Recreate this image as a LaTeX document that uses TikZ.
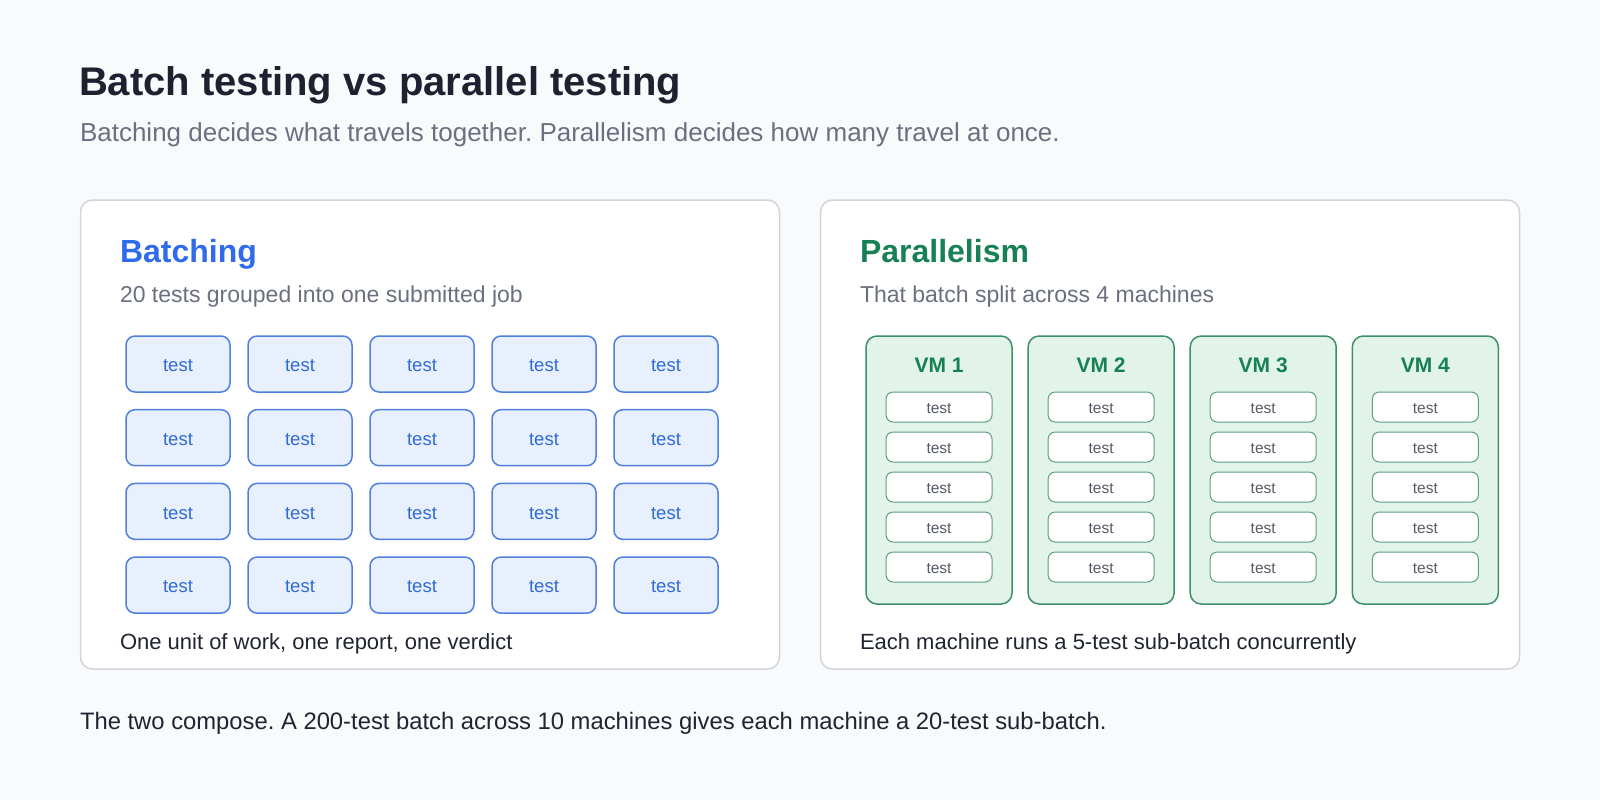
\documentclass[tikz,border=0pt]{standalone}
\usepackage{fontspec}
\setmainfont{Liberation Sans}
\frenchspacing
\definecolor{bg}{HTML}{F8FAFC}
\definecolor{panelborder}{HTML}{D1D5DB}
\definecolor{titlecol}{HTML}{1D2130}
\definecolor{subcol}{HTML}{6B7080}
\definecolor{capcol}{HTML}{1F2430}
\definecolor{blueT}{HTML}{2F6BEA}
\definecolor{blueFill}{HTML}{E8EFFD}
\definecolor{blueLine}{HTML}{4F80E0}
\definecolor{blueText}{HTML}{2F6BD6}
\definecolor{greenT}{HTML}{178055}
\definecolor{vmFill}{HTML}{E2F4EA}
\definecolor{vmLine}{HTML}{3D8F69}
\definecolor{innerLine}{HTML}{5C9E80}
\definecolor{innerText}{HTML}{555B66}
\tikzset{
  txt/.style={anchor=base west, inner sep=0pt, outer sep=0pt},
  panel/.style={draw=panelborder, line width=1.5pt, fill=white, rounded corners=12pt},
  bbox/.style={draw=blueLine, line width=1.5pt, fill=blueFill, rounded corners=9pt,
    minimum width=104pt, minimum height=56pt, inner sep=0pt, text=blueText,
    font=\fontsize{18.5}{22}\selectfont},
  vmbox/.style={draw=vmLine, line width=1.5pt, fill=vmFill, rounded corners=11pt,
    minimum width=146pt, minimum height=268pt, inner sep=0pt},
  ibox/.style={draw=innerLine, line width=1pt, fill=white, rounded corners=7pt,
    minimum width=106pt, minimum height=30pt, inner sep=0pt, text=innerText,
    font=\fontsize{15.5}{18}\selectfont},
  lbl/.style={inner sep=0pt, yshift=-2pt},
  vmlabel/.style={anchor=base, inner sep=0pt, text=greenT, font=\fontsize{21}{25}\selectfont\bfseries}
}
\begin{document}
\begin{tikzpicture}[x=1pt,y=-1pt]
\fill[bg] (0,0) rectangle (1600,800);
\useasboundingbox (0,0) rectangle (1600,800);
% header
\node[txt, text=titlecol, font=\fontsize{40}{48}\selectfont\bfseries] (title) at (79,95) {Batch testing vs parallel testing};
\node[txt, text=subcol, font=\fontsize{26}{30}\selectfont] (subtitle) at (80,141) {Batching decides what travels together. Parallelism decides how many travel at once.};
% panels
\draw[panel] (80.5,200) rectangle (779.5,669);
\draw[panel] (820.5,200) rectangle (1519.5,669);
% left panel
\node[txt, text=blueT, font=\fontsize{32}{38}\selectfont\bfseries] (ltitle) at (120,262) {Batching};
\node[txt, text=subcol, font=\fontsize{23}{28}\selectfont] (lsub) at (120,302) {20 tests grouped into one submitted job};
\foreach \r in {0,1,2,3}{
  \foreach \c in {0,1,2,3,4}{
    \node[bbox] (b-\r-\c) at ({126+52+122*\c},{336+28+73.7*\r}) {};
    \node[lbl, text=blueText, font=\fontsize{18.5}{22}\selectfont] (bl-\r-\c) at (b-\r-\c) {test};
  }
}
\node[txt, text=capcol, font=\fontsize{22}{26}\selectfont] (lcap) at (120,649) {One unit of work, one report, one verdict};
% right panel
\node[txt, text=greenT, font=\fontsize{32}{38}\selectfont\bfseries] (rtitle) at (860,262) {Parallelism};
\node[txt, text=subcol, font=\fontsize{23}{28}\selectfont] (rsub) at (860,302) {That batch split across 4 machines};
\foreach \v in {1,2,3,4}{
  \node[vmbox] (vm\v) at ({866+73+162.1*(\v-1)},470) {};
  \node[vmlabel] (vml\v) at ({866+73+162.1*(\v-1)},372.5) {VM \v};
  \foreach \k in {0,1,2,3,4}{
    \node[ibox] (t-\v-\k) at ({866+73+162.1*(\v-1)},{392+15+40*\k}) {};
    \node[lbl, text=innerText, font=\fontsize{15.5}{18}\selectfont] (tl-\v-\k) at (t-\v-\k) {test};
  }
}
\node[txt, text=capcol, font=\fontsize{22}{26}\selectfont] (rcap) at (860,649) {Each machine runs a 5-test sub-batch concurrently};
% footer
\node[txt, text=capcol, font=\fontsize{23.8}{28}\selectfont] (foot) at (80,729) {The two compose. A 200-test batch across 10 machines gives each machine a 20-test sub-batch.};
\end{tikzpicture}
\end{document}
